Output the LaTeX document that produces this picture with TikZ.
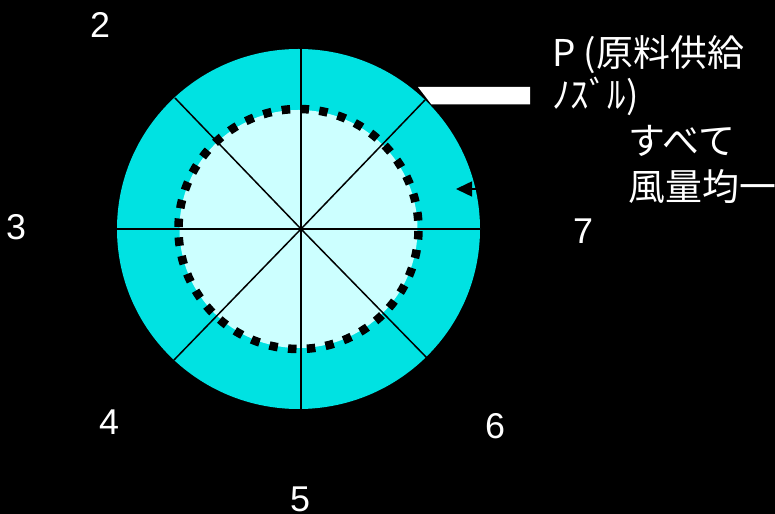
\documentclass[tikz,border=0pt]{standalone}
\usepackage{fontspec}
\setmainfont{Liberation Sans}
\newfontfamily\cjk{Noto Sans CJK JP}
\usetikzlibrary{arrows.meta}
\definecolor{ringc}{RGB}{0,226,226}
\definecolor{corec}{RGB}{204,255,255}

\begin{document}
\begin{tikzpicture}[
    every node/.style       = {inner sep=0pt, text=white, font=\fontsize{20.4}{24}\selectfont},
    jlabel/.style           = {anchor=west, font=\fontsize{21}{24}\selectfont\cjk},
    spoke/.style            = {black, line width=0.03cm},
    ]
      % background -----------------------------------------------
      \fill[black] (0,0) rectangle (15.5,10.28);
      \useasboundingbox (0,0) rectangle (15.5,10.28);

      % disc -----------------------------------------------------
      \coordinate (c) at (5.97,5.70);
      \coordinate (hub) at (6.02,5.70);
      \fill[ringc] (c) ellipse [x radius=3.63, y radius=3.60];
      \fill[corec] (c) circle (2.38);
      \foreach \n/\p in {a/{9.60,5.70},b/{8.50,8.28},c/{6.02,9.30},d/{3.50,8.32},
                         e/{2.34,5.70},f/{3.48,3.08},g/{6.02,2.10},h/{8.54,3.12}}
      {
        \coordinate (s\n) at (\p);
        \draw[spoke] (hub) -- (s\n);
      }
      \draw[black, line width=0.17cm, dash pattern=on 0.17cm off 0.207cm]
            (c) ++(-5:2.40) arc (-5:355:2.40);

      % nozzle and arrow -----------------------------------------
      \fill[white] (8.36,8.54) -- (10.60,8.54) -- (10.60,8.19) -- (8.63,8.19) -- cycle;
      \coordinate (t0) at (9.55,6.50);
      \coordinate (t1) at (9.12,6.50);
      \draw[black, line width=0.03cm, -{Triangle[length=0.32cm,width=0.30cm]}] (t0) -- (t1);

      % labels ---------------------------------------------------
      \node (n2) at (2.00,9.78) {2};
      \node (n3) at (0.32,5.74) {3};
      \node (n4) at (2.18,1.84) {4};
      \node (n5) at (6.00,0.30) {5};
      \node (n6) at (9.90,1.76) {6};
      \node (n7) at (11.66,5.66) {7};
      \node[jlabel] (p1) at (11.04,9.18) {P (原料供給};
      \node[jlabel] (p2) at (11.04,8.36) {ﾉｽﾞﾙ)};
      \node[jlabel] (q1) at (12.56,7.46) {すべて};
      \node[jlabel] (q2) at (12.56,6.54) {風量均一};
    \end{tikzpicture}
\end{document}
